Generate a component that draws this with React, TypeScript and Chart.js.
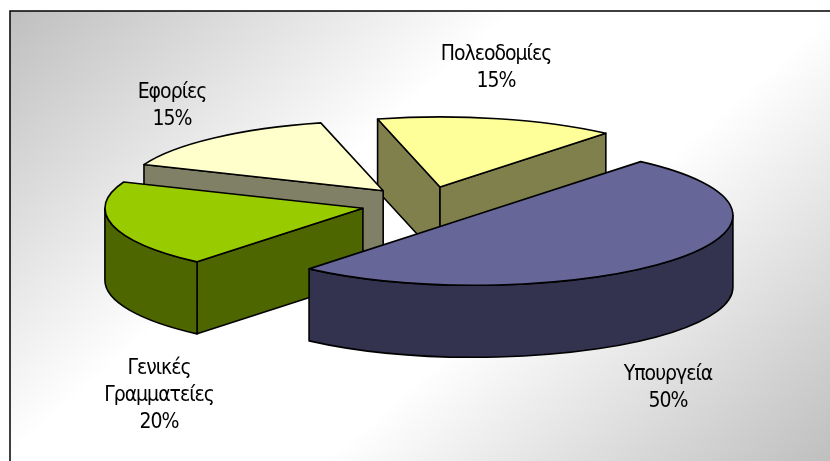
import React, { useEffect, useRef } from "react";
import { Chart, registerables } from "chart.js";

Chart.register(...registerables);

const categories: string[][] = [["Υπουργεία"], ["Γενικές", "Γραμματείες"], ["Εφορίες"], ["Πολεοδομίες"]];
const shares = [50, 20, 15, 15];
const topColors = ["#666699", "#99cc00", "#ffffcc", "#ffff99"];
const sideColors = ["#333350", "#4d6600", "#808066", "#80804d"];
const labelCentres = [
  [668, 375],
  [159, 369],
  [172, 93],
  [496, 55],
];

const WIDTH = 830;
const HEIGHT = 461;
const SCALE_X = 258 / 170;
const SCALE_Y = 70 / 170;
const EXPLODE = 0.25;
const DEPTH = 72;
const LINE_HEIGHT = 27;
const FRAME = { left: 10, top: 11, right: 830, bottom: 461 };
const GRADIENT_NORMAL = [0.66, 0.75];
const GRADIENT_REACH = 440;

const paintFace = (ctx: CanvasRenderingContext2D, fill: string, path: () => void) => {
  ctx.beginPath();
  path();
  ctx.closePath();
  ctx.fillStyle = fill;
  ctx.fill();
  ctx.stroke();
};

const backgroundPlugin = {
  id: "frameBackground",
  beforeDraw(chart: any) {
    const ctx: CanvasRenderingContext2D = chart.ctx;
    const w = FRAME.right - FRAME.left;
    const h = FRAME.bottom - FRAME.top;
    const cx = FRAME.left + w / 2;
    const cy = FRAME.top + h / 2;
    const [nx, ny] = GRADIENT_NORMAL;
    const p = GRADIENT_REACH;
    const g = ctx.createLinearGradient(cx - nx * p, cy - ny * p, cx + nx * p, cy + ny * p);
    g.addColorStop(0, "#bfbfbf");
    g.addColorStop(0.38, "#ffffff");
    g.addColorStop(0.62, "#ffffff");
    g.addColorStop(1, "#bfbfbf");
    ctx.save();
    ctx.fillStyle = "#ffffff";
    ctx.fillRect(0, 0, WIDTH, HEIGHT);
    ctx.fillStyle = g;
    ctx.fillRect(FRAME.left, FRAME.top, w, h);
    ctx.strokeStyle = "#000000";
    ctx.lineWidth = 1.5;
    ctx.beginPath();
    ctx.moveTo(FRAME.left, HEIGHT);
    ctx.lineTo(FRAME.left, FRAME.top);
    ctx.lineTo(WIDTH, FRAME.top);
    ctx.stroke();
    ctx.restore();
  },
};

const pie3dPlugin = {
  id: "pie3d",
  beforeDatasetsDraw(chart: any) {
    const ctx: CanvasRenderingContext2D = chart.ctx;
    const meta = chart.getDatasetMeta(0);
    const slices = meta.data.map((el: any, i: number) => {
      const { x, y, startAngle, endAngle, outerRadius } = el.getProps(["x", "y", "startAngle", "endAngle", "outerRadius"]);
      const rx = outerRadius * SCALE_X;
      const ry = outerRadius * SCALE_Y;
      const mid = (startAngle + endAngle) / 2;
      return {
        i,
        a: startAngle,
        b: endAngle,
        rx,
        ry,
        cx: x + EXPLODE * rx * Math.cos(mid),
        cy: y + EXPLODE * ry * Math.sin(mid),
        top: el.options.backgroundColor,
      };
    });
    slices.sort((p: any, q: any) => p.cy - q.cy);
    ctx.save();
    ctx.lineWidth = 1.6;
    ctx.lineJoin = "round";
    ctx.strokeStyle = "#000000";
    for (const s of slices) {
      const side = sideColors[s.i];
      const pt = (t: number) => [s.cx + s.rx * Math.cos(t), s.cy + s.ry * Math.sin(t)];
      const cut = (t: number) => {
        const [px, py] = pt(t);
        paintFace(ctx, side, () => {
          ctx.moveTo(s.cx, s.cy);
          ctx.lineTo(px, py);
          ctx.lineTo(px, py + DEPTH);
          ctx.lineTo(s.cx, s.cy + DEPTH);
        });
      };
      if (-Math.cos(s.a) > 0) cut(s.a);
      if (Math.cos(s.b) > 0) cut(s.b);
      // outer rim: the part of the arc that faces the viewer
      for (let k = -1; k <= 1; k++) {
        const lo = Math.max(s.a, k * 2 * Math.PI);
        const hi = Math.min(s.b, k * 2 * Math.PI + Math.PI);
        if (hi > lo) {
          paintFace(ctx, side, () => {
            ctx.ellipse(s.cx, s.cy, s.rx, s.ry, 0, lo, hi);
            ctx.ellipse(s.cx, s.cy + DEPTH, s.rx, s.ry, 0, hi, lo, true);
          });
        }
      }
      paintFace(ctx, s.top, () => {
        ctx.moveTo(s.cx, s.cy);
        ctx.ellipse(s.cx, s.cy, s.rx, s.ry, 0, s.a, s.b);
      });
    }
    ctx.restore();
    return false;
  },
};

const labelPlugin = {
  id: "sliceLabels",
  afterDraw(chart: any) {
    const ctx: any = chart.ctx;
    const values: number[] = chart.data.datasets[0].data;
    const total = values.reduce((a, b) => a + b, 0);
    ctx.save();
    ctx.font = '21px "DejaVu Sans"';
    ctx.fontStretch = "condensed";
    ctx.letterSpacing = "-1px";
    ctx.fillStyle = "#000000";
    ctx.textAlign = "center";
    ctx.textBaseline = "middle";
    chart.data.labels.forEach((label: string[], i: number) => {
      const lines = [...label, `${Math.round((values[i] / total) * 100)}%`];
      const [x, y] = labelCentres[i];
      lines.forEach((line, k) => ctx.fillText(line, x, y + k * LINE_HEIGHT));
    });
    ctx.restore();
  },
};

export default function App() {
  const ref = useRef<HTMLCanvasElement>(null);
  useEffect(() => {
    const chart = new Chart(ref.current as HTMLCanvasElement, {
      type: "pie",
      data: {
        labels: categories as any,
        datasets: [{ data: shares, backgroundColor: topColors, borderWidth: 0, hoverBorderWidth: 0 }],
      },
      options: {
        responsive: false,
        animation: false,
        rotation: 40,
        events: [],
        layout: { padding: { left: 255.5, right: 234.5, top: 34, bottom: 87 } },
        plugins: { legend: { display: false }, tooltip: { enabled: false } },
      },
      plugins: [backgroundPlugin, pie3dPlugin, labelPlugin],
    } as any);
    return () => chart.destroy();
  }, []);
  return (
    <div style={{ position: "absolute", left: 0, top: 0, width: WIDTH, height: HEIGHT }}>
      <canvas ref={ref} width={WIDTH} height={HEIGHT} style={{ display: "block" }} />
    </div>
  );
}
